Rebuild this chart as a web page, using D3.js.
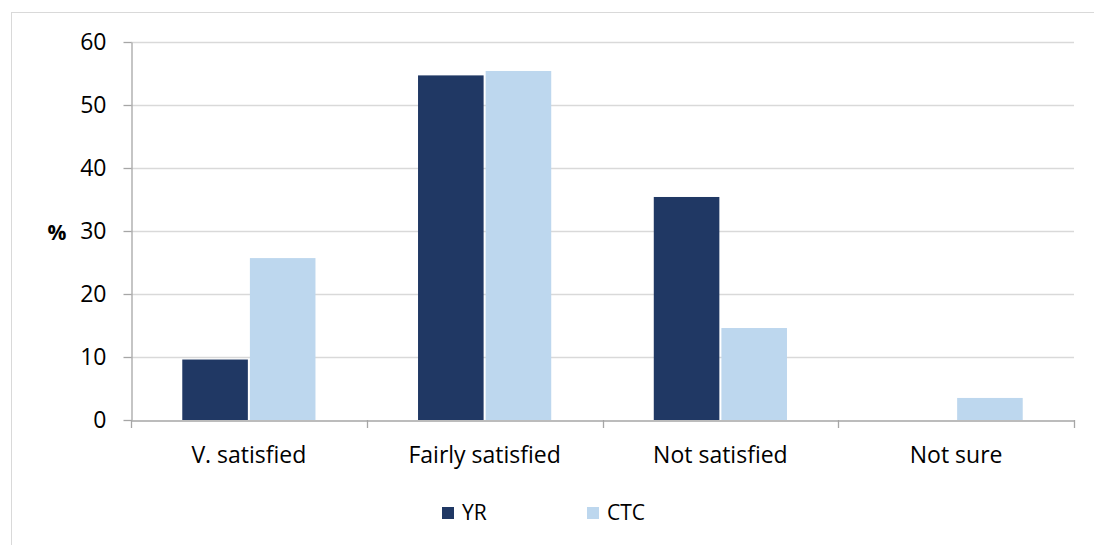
<!DOCTYPE html>
<html><head><meta charset="utf-8">
<script src="https://cdn.jsdelivr.net/npm/d3@7"></script>
<style>body{margin:0;background:#fff;}svg{display:block;font-family:"Open Sans",sans-serif;}</style>
</head><body>
<svg id="c" width="1094" height="545"></svg>
<script>
const categories = ["V. satisfied", "Fairly satisfied", "Not satisfied", "Not sure"];
const seriesNames = ["YR", "CTC"];
const yrValues = [9.6, 54.7, 35.4, 0];
const ctcValues = [25.7, 55.4, 14.6, 3.5];
const yTicks = [0, 10, 20, 30, 40, 50, 60];
const colors = ["#203864", "#BDD7EE"];

(function () {
const FONT = "'Open Sans',sans-serif";
const svg = d3.select("#c");
const mLeft = 131, mRight = 1074, mTop = 42, mBottom = 420;

svg.append("rect").attr("x", 11.5).attr("y", 12.5).attr("width", 1100).attr("height", 600)
  .attr("fill", "none").attr("stroke", "#d9d9d9").attr("stroke-width", 1);

const x = d3.scaleBand().domain(categories).range([mLeft, mRight]).paddingInner(0.435).paddingOuter(0.2175);
const x1 = d3.scaleBand().domain(seriesNames).range([0, x.bandwidth()]).paddingInner(0.03);
const y = d3.scaleLinear().domain([0, 60]).range([mBottom, mTop]);

svg.append("g").selectAll("line").data(yTicks.filter(d => d > 0)).join("line")
  .attr("x1", mLeft).attr("x2", mRight).attr("y1", d => Math.round(y(d)) + 0.5).attr("y2", d => Math.round(y(d)) + 0.5)
  .attr("stroke", "#d9d9d9").attr("stroke-width", 1.3);

const data = categories.map((c, i) => ({ c, vals: [yrValues[i], ctcValues[i]] }));
svg.append("g").selectAll("g").data(data).join("g")
  .attr("transform", d => `translate(${x(d.c)},0)`)
  .selectAll("rect").data(d => d.vals.map((v, j) => ({ v, s: seriesNames[j], j })))
  .join("rect")
  .attr("x", d => x1(d.s)).attr("width", x1.bandwidth())
  .attr("y", d => y(d.v)).attr("height", d => mBottom - y(d.v))
  .attr("fill", d => colors[d.j]);

const yAxis = svg.append("g").attr("transform", `translate(${mLeft + 0.5},0)`)
  .call(d3.axisLeft(y).tickValues(yTicks).tickSize(8).tickPadding(17).tickSizeOuter(0));
yAxis.select(".domain").attr("stroke", "#a6a6a6").attr("stroke-width", 1.3);
yAxis.selectAll(".tick line").attr("stroke", "#a6a6a6").attr("stroke-width", 1.3);
yAxis.selectAll("text").attr("font-size", 23).attr("fill", "#000").attr("font-family", FONT);

const xAxis = svg.append("g").attr("transform", `translate(0,${mBottom + 0.5})`)
  .call(d3.axisBottom(x).tickSize(0).tickPadding(26));
xAxis.select(".domain").attr("stroke", "#a6a6a6").attr("stroke-width", 1.3);
xAxis.selectAll("text").attr("font-size", 23).attr("fill", "#000").attr("font-family", FONT);
const step = (mRight - mLeft) / categories.length;
svg.append("g").selectAll("line").data(d3.range(categories.length + 1)).join("line")
  .attr("x1", i => Math.round(mLeft + i * step) + 0.5).attr("x2", i => Math.round(mLeft + i * step) + 0.5)
  .attr("y1", mBottom).attr("y2", mBottom + 8).attr("stroke", "#a6a6a6").attr("stroke-width", 1.3);

svg.append("text").attr("x", 57).attr("y", 240).attr("text-anchor", "middle")
  .attr("font-size", 21).attr("font-weight", "bold").attr("font-family", FONT).text("%");

const legendX = [442, 587];
const lg = svg.append("g").selectAll("g").data(seriesNames).join("g")
  .attr("transform", (d, i) => `translate(${legendX[i]},507)`);
lg.append("rect").attr("width", 12).attr("height", 12).attr("fill", (d, i) => colors[i]);
lg.append("text").attr("x", 20).attr("y", 13).attr("font-size", 21).attr("font-family", FONT).text(d => d);
})();
</script>
</body></html>
